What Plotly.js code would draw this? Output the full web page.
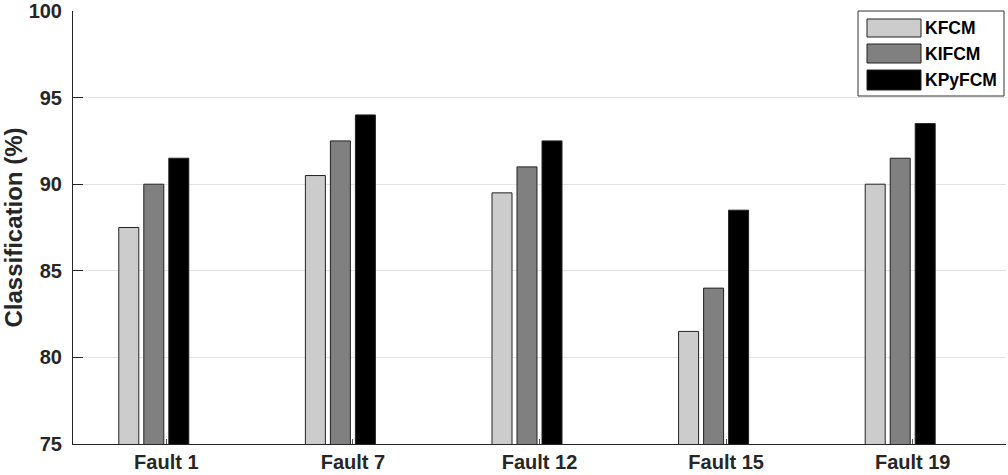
<!DOCTYPE html>
<html><head><meta charset="utf-8">
<script src="https://cdn.plot.ly/plotly-3.0.1.min.js"></script>
<style>html,body{margin:0;padding:0;background:#fff}#c{width:1008px;height:475px}</style>
</head><body><div id="c"></div>
<script>
var categories = ['Fault 1','Fault 7','Fault 12','Fault 15','Fault 19'];
var seriesNames = ['KFCM','KIFCM','KPyFCM'];
var kfcm = [87.5, 90.5, 89.5, 81.5, 90];
var kifcm = [90, 92.5, 91, 84, 91.5];
var kpyfcm = [91.5, 94, 92.5, 88.5, 93.5];
var yTicks = [75, 80, 85, 90, 95, 100];
var colors = ['#cccccc', '#808080', '#000000'];
var values = [kfcm, kifcm, kpyfcm];

var traces = values.map(function(v, i){
  return {type:'bar', x:categories, y:v, name:seriesNames[i], base:0,
    marker:{color:colors[i], line:{color:'#222', width:1}}, showlegend:false};
});
// empty fourth slot (the reference groups are laid out for four bars)
traces.push({type:'bar', x:categories, y:categories.map(function(){return null;}), showlegend:false, hoverinfo:'skip'});

// custom legend (large swatches like the reference)
var L = 73, R = 1006, T = 11, B = 444;
function px(x){ return (x - L)/(R - L); }
function py(y){ return (B - y)/(B - T); }
var shapes = [{type:'rect', xref:'paper', yref:'paper', x0:px(858), x1:px(1004), y0:py(96), y1:py(11),
  line:{color:'#333', width:1}, fillcolor:'#fff', layer:'above'}];
var rows = [[19,37],[44,63],[70,90]];
var annotations = [];
seriesNames.forEach(function(n, i){
  shapes.push({type:'rect', xref:'paper', yref:'paper', x0:px(867), x1:px(921), y0:py(rows[i][1]), y1:py(rows[i][0]),
    line:{color:'#222', width:1}, fillcolor:colors[i], layer:'above'});
  annotations.push({xref:'paper', yref:'paper', x:px(923), y:py((rows[i][0]+rows[i][1])/2), xanchor:'left', yanchor:'middle',
    text:'<b>'+n+'</b>', showarrow:false, font:{family:'Liberation Sans, Arial, sans-serif', size:17.5, color:'#000'}});
});

var layout = {
  width:1008, height:475,
  margin:{l:L, r:1008-R, t:T, b:475-B},
  paper_bgcolor:'#fff', plot_bgcolor:'#fff',
  barmode:'group', bargap:0.464, bargroupgap:0.2,
  font:{family:'Liberation Sans, Arial, sans-serif', color:'#262626'},
  xaxis:{showline:true, linecolor:'#262626', linewidth:1, ticks:'inside', ticklen:5, tickcolor:'#555',
    tickfont:{size:20, weight:'bold', color:'#262626'}, showgrid:false, zeroline:false, mirror:false},
  yaxis:{range:[75,100], tickvals:yTicks, ticktext:yTicks.map(String), showline:true, linecolor:'#262626', linewidth:1,
    ticks:'inside', ticklen:10, tickcolor:'#262626', showgrid:true, gridcolor:'#e3e3e3', gridwidth:1, zeroline:false,
    tickfont:{size:20, weight:'bold', color:'#262626'}, ticklabelstandoff:6, ticklabeloverflow:'allow',
    title:{text:'<b>Classification (%)</b>', font:{size:24, color:'#262626'}, standoff:5}},
  shapes:shapes, annotations:annotations
};
Plotly.newPlot('c', traces, layout, {displayModeBar:false, staticPlot:true});
</script></body></html>
